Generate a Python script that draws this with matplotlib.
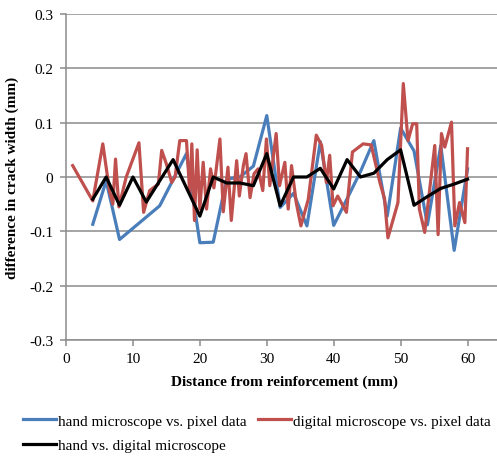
import matplotlib.pyplot as plt
from matplotlib.ticker import FixedLocator

# hand microscope vs. pixel data
hand_x = [4, 6, 8, 14, 18, 20, 22, 24, 26, 28, 30, 32, 34, 36, 38, 40, 42, 44,
          46, 48, 50, 52, 54, 56, 58, 60]
hand_y = [-0.087, -0.007, -0.115, -0.053, 0.043, -0.121, -0.12, -0.004, 0.0, 0.02,
          0.113, -0.056, -0.03, -0.09, 0.065, -0.089, -0.04, 0.01, 0.067, -0.072,
          0.09, 0.048, -0.088, 0.058, -0.135, 0.015]

# digital microscope vs. pixel data
dig_x = [1, 4, 5.5, 6.5, 7, 7.4, 7.9, 9, 10.9, 11.6, 12.5, 13.8, 14.3, 15.0, 15.8,
         16.3, 17.0, 18.0, 18.5, 18.8, 19.2, 19.6, 20.0, 20.5, 21.0, 21.6, 22.1,
         23.0, 23.5, 24.2, 24.7, 25.5, 25.9, 26.5, 26.9, 27.5, 28.1, 28.7, 29.4,
         29.95, 30.45, 31.4, 31.9, 32.7, 33.2, 33.7, 34.4, 35.1, 36.2, 37.4, 38.2,
         38.9, 39.4, 39.9, 40.6, 41.9, 42.8, 44.4, 45.6, 46.9, 47.6, 48.1, 49.6,
         50.4, 51.1, 51.8, 52.4, 52.8, 53.6, 55.1, 55.6, 56.1, 56.6, 57.6, 58.1,
         58.8, 59.6, 60.0]
dig_y = [0.021, -0.044, 0.061, -0.025, -0.05, 0.033, -0.055, 0.0, 0.063, -0.065,
         -0.025, -0.013, 0.049, 0.024, -0.01, 0.0, 0.067, 0.067, -0.031, 0.061,
         -0.08, 0.05, -0.059, 0.027, -0.059, 0.015, -0.02, 0.07, -0.064, 0.018,
         -0.08, 0.03, -0.035, 0.021, 0.043, -0.038, 0.006, 0.015, -0.025, 0.07,
         -0.016, 0.08, -0.016, 0.027, -0.059, 0.021, -0.047, -0.09, -0.041, 0.077,
         0.058, -0.01, 0.04, -0.053, -0.035, -0.065, 0.046, 0.061, 0.059, -0.01,
         -0.04, -0.112, -0.047, 0.172, 0.067, 0.098, 0.098, -0.059, -0.102, 0.058,
         -0.106, 0.08, 0.055, 0.101, -0.09, -0.047, -0.084, 0.052]

# hand vs. digital microscope
hvd_x = [4, 6, 8, 10, 12, 16, 20, 22, 24, 26, 28, 30, 32, 34, 36, 38, 40, 42, 44,
         46, 48, 50, 52, 54, 56, 58, 60]
hvd_y = [-0.041, 0.0, -0.052, 0.0, -0.046, 0.032, -0.072, 0.0, -0.011, -0.011,
         -0.016, 0.043, -0.053, 0.0, 0.0, 0.016, -0.022, 0.032, 0.0, 0.007, 0.032,
         0.05, -0.052, -0.036, -0.021, -0.013, -0.004]

x_ticks = [0, 10, 20, 30, 40, 50, 60]
y_ticks = [-0.3, -0.2, -0.1, 0, 0.1, 0.2, 0.3]
y_tick_labels = ['-0.3', '-0.2', '-0.1', '0', '0.1', '0.2', '0.3']

plt.rcParams['font.family'] = ['Liberation Serif', 'DejaVu Serif']
grid_col = '#8c8c8c'

fig = plt.figure(figsize=(4.97, 4.60), dpi=100)
ax = fig.add_axes([66 / 497, 119 / 460, 431 / 497, 326 / 460])

l_hand, = ax.plot(hand_x, hand_y, color='#4a7ebb', lw=2.3)
l_dig, = ax.plot(dig_x, dig_y, color='#c0504d', lw=2.3)
l_hvd, = ax.plot(hvd_x, hvd_y, color='black', lw=2.3)

ax.set_xlim(0, 64.4)
ax.set_ylim(-0.3, 0.3)
ax.xaxis.set_major_locator(FixedLocator(x_ticks))
ax.set_yticks(y_ticks)
ax.set_yticklabels(y_tick_labels)
ax.grid(axis='y', color=grid_col, lw=1.1)
ax.set_axisbelow(True)
for s in ['top', 'right']:
    ax.spines[s].set_visible(False)
for s in ['left', 'bottom']:
    ax.spines[s].set_color(grid_col)
    ax.spines[s].set_linewidth(1.1)
ax.tick_params(axis='both', direction='out', length=4, width=1.1, color=grid_col,
               labelsize=11, pad=5)
ax.tick_params(axis='x', pad=5)

ax.set_xlabel('Distance from reinforcement (mm)', fontsize=11, fontweight='bold')
ax.xaxis.set_label_coords(0.506, -0.105)
ax.set_ylabel('difference in crack width (mm)', fontsize=11, fontweight='bold')
ax.yaxis.set_label_coords(-0.11, 0.5)

# ncol=2 fills column-wise, so order handles to read row by row
fig.legend([l_hand, l_hvd, l_dig],
           ['hand microscope vs. pixel data', 'hand vs. digital microscope',
            'digital microscope vs. pixel data'],
           loc='upper left', bbox_to_anchor=(0.046, 0.098), ncol=2, frameon=False,
           fontsize=11, handlelength=2.15, handletextpad=0.12, columnspacing=0.8,
           labelspacing=0.7, borderaxespad=0, borderpad=0)

fig.savefig('out.png', dpi=100)
